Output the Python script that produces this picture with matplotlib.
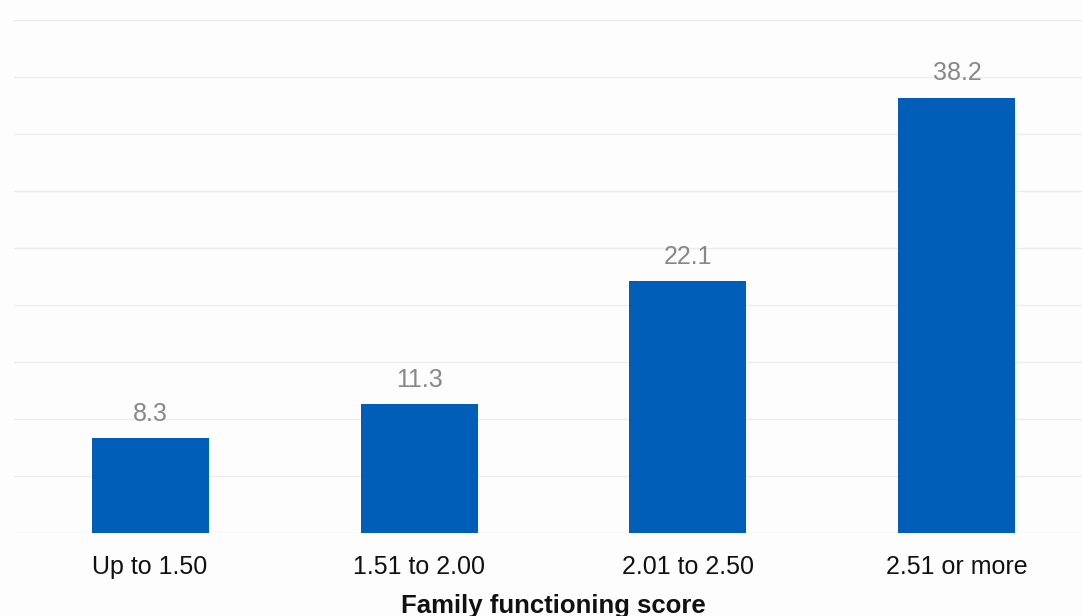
import matplotlib.pyplot as plt

categories = ["Up to 1.50", "1.51 to 2.00", "2.01 to 2.50", "2.51 or more"]
values = [8.3, 11.3, 22.1, 38.2]

plt.rcParams["font.family"] = ["Liberation Sans", "DejaVu Sans"]

fig = plt.figure(figsize=(10.82, 6.16), dpi=100, facecolor="#fdfdfd")
ax = fig.add_axes([14 / 1082, 1 - 533 / 616, 1 - 14 / 1082, (533 - 20) / 616])
ax.set_facecolor("#fdfdfd")

x = list(range(len(categories)))
bars = ax.bar(x, values, width=0.435, color="#005eb8", zorder=3)
ax.bar_label(bars, labels=[f"{v:.1f}" for v in values], padding=9,
             color="#888888", fontsize=18)

ax.set_xlim(-0.506, 3.465)
ax.set_ylim(0, 45)
ax.set_yticks(range(0, 46, 5))
ax.yaxis.grid(True, color="#ececec", linewidth=1, zorder=0)
ax.tick_params(axis="y", left=False, labelleft=False)
ax.set_xticks(x)
ax.set_xticklabels(categories, fontsize=18, color="#111111")
ax.tick_params(axis="x", length=0, pad=15.5)
for side in ax.spines:
    ax.spines[side].set_visible(False)

ax.set_xlabel("Family functioning score", fontsize=18.5, fontweight="bold",
              color="#111111")
ax.xaxis.set_label_coords((553 - 14) / 1068, -0.142)
ax.xaxis.label.set_va("center")

fig.savefig("out.png", dpi=100, facecolor=fig.get_facecolor())
